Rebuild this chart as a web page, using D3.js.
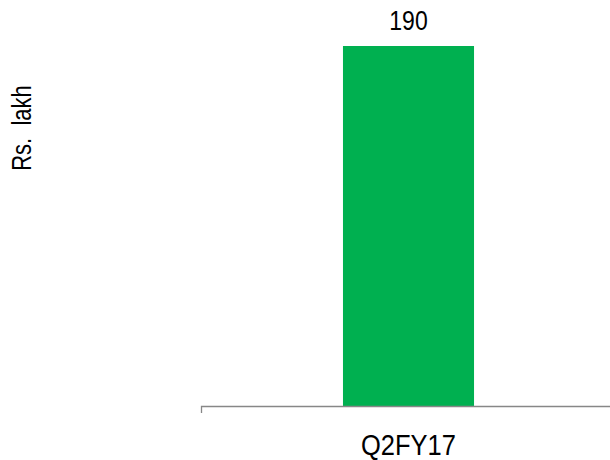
<!DOCTYPE html>
<html><head><meta charset="utf-8">
<script src="https://cdn.jsdelivr.net/npm/d3@7"></script>
<style>body{margin:0;background:#fff}svg{display:block}</style>
</head><body>
<svg id="c" width="610" height="460"></svg>
<script>
const categories = ["Q2FY17"];
const values = [190];
const yLabel = "Rs.  lakh";

const svg = d3.select("#c");
const font = "Liberation Sans, Arial, sans-serif";
const x = d3.scaleBand().domain(categories).range([201, 616]).paddingInner(0.52).paddingOuter(0.52);
const y = d3.scaleLinear().domain([0, 190]).range([406, 46]);

svg.selectAll("rect.bar").data(values).enter().append("rect")
  .attr("x", (d,i) => x(categories[i])).attr("y", d => y(d))
  .attr("width", x.bandwidth()).attr("height", d => y(0) - y(d))
  .attr("fill", "#00b050");

svg.selectAll("text.val").data(values).enter().append("text")
  .attr("transform", (d,i) => `translate(${x(categories[i]) + x.bandwidth()/2},${y(d) - 16}) scale(1,1.22)`)
  .attr("text-anchor", "middle").attr("font-family", font).attr("font-size", 23).attr("fill", "#000")
  .text(d => d);

const x0 = 201, x1 = 616;
svg.append("path").attr("d", `M${x0+0.5},413V${y(0)+0.5}H${x1}`)
  .attr("fill", "none").attr("stroke", "#878787").attr("stroke-width", 1.3);

svg.selectAll("text.cat").data(categories).enter().append("text")
  .attr("transform", d => `translate(${x(d) + x.bandwidth()/2},455) scale(1,1.15)`)
  .attr("text-anchor", "middle").attr("font-family", font).attr("font-size", 25.5).attr("fill", "#000")
  .text(d => d);

svg.append("text").attr("transform", "translate(31,128) rotate(-90) scale(1,1.25)")
  .attr("text-anchor", "middle").attr("font-family", font).attr("font-size", 22).attr("fill", "#000")
  .attr("xml:space", "preserve").style("white-space", "pre")
  .text(yLabel);
</script>
</body></html>
